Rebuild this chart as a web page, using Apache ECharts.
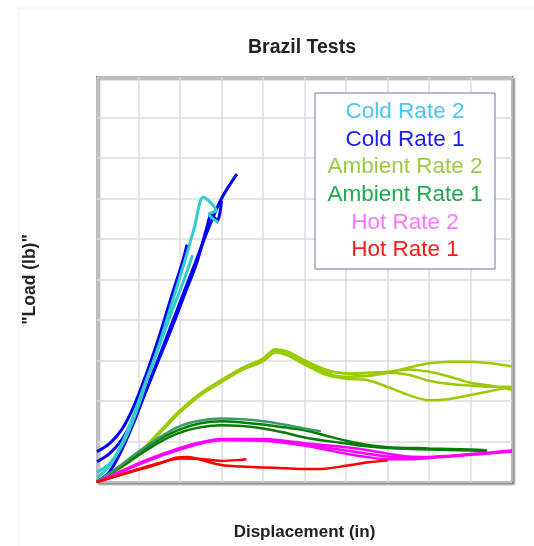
<!DOCTYPE html>
<html>
<head>
<meta charset="utf-8">
<script src="https://cdn.jsdelivr.net/npm/echarts@6/dist/echarts.min.js"></script>
<style>
  html, body { margin: 0; padding: 0; background: #fff; }
  #chart { width: 534px; height: 546px; }
</style>
</head>
<body>
<div id="chart"></div>
<script>
// values, in grid units (no tick labels shown)
var coldRate1 = [
  [[0,0],[0.3,0.25],[0.6,0.8],[0.9,1.5],[1.2,2.3],[1.5,3.1],[1.8,3.9],[2.1,4.7],[2.4,5.5],[2.7,6.3],[3.0,7.0],[3.37,7.6]],
  [[0,0.75],[0.3,0.95],[0.6,1.3],[0.9,1.9],[1.2,2.7],[1.5,3.6],[1.8,4.6],[2.05,5.4],[2.17,5.86]],
  [[0,0.5],[0.3,0.7],[0.6,1.05],[0.9,1.6],[1.2,2.3],[1.5,3.05],[1.8,3.8],[2.1,4.6],[2.4,5.4],[2.65,6.3],[2.75,6.6],[2.9,6.45],[3.0,6.95]]
];
var coldRate2 = [
  [[0,0.24],[0.3,0.45],[0.6,0.9],[0.9,1.6],[1.2,2.5],[1.5,3.4],[1.8,4.4],[2.1,5.4],[2.35,6.3],[2.56,7.03],[2.87,6.7],[2.7,6.62],[2.93,6.4]],
  [[0,0.1],[0.3,0.4],[0.6,0.95],[0.9,1.7],[1.2,2.55],[1.5,3.35],[1.8,4.2],[2.1,5.0],[2.3,5.6]]
];
var ambientRate2 = [
  [[0,0],[0.5,0.33],[1,0.7],[1.5,1.24],[2,1.77],[2.5,2.2],[3,2.52],[3.5,2.82],[4,3.05],[4.3,3.28],[4.6,3.22],[5,3.0],[5.5,2.75],[6,2.68],[6.5,2.62],[7,2.7],[7.5,2.82],[8,2.93],[8.5,2.97],[9,2.97],[9.5,2.93],[10,2.85]],
  [[0,0],[0.5,0.31],[1,0.67],[1.5,1.2],[2,1.73],[2.5,2.16],[3,2.48],[3.5,2.78],[4,3.0],[4.3,3.22],[4.6,3.15],[5,2.95],[5.5,2.7],[6,2.6],[6.5,2.62],[7,2.7],[7.5,2.65],[8,2.5],[8.5,2.42],[9,2.38],[9.5,2.35],[10,2.35]],
  [[0,0],[0.5,0.3],[1,0.66],[1.5,1.19],[2,1.72],[2.5,2.15],[3,2.47],[3.5,2.77],[4,2.98],[4.3,3.2],[4.6,3.12],[5,2.9],[5.5,2.65],[6,2.55],[6.5,2.52],[7,2.35],[7.5,2.15],[8,2.02],[8.5,2.05],[9,2.15],[9.5,2.25],[10,2.35]],
  [[0,0],[0.5,0.32],[1,0.69],[1.5,1.22],[2,1.75],[2.5,2.18],[3,2.5],[3.5,2.8],[4,3.02],[4.3,3.25],[4.6,3.2],[5,3.0],[5.5,2.78],[6,2.68],[6.5,2.7],[7,2.72],[7.5,2.78],[8,2.72],[8.5,2.6],[9,2.45],[9.5,2.38],[10,2.28]]
];
var ambientRate1 = [
  [[0,0],[0.5,0.35],[1,0.72],[1.5,1.05],[2,1.3],[2.5,1.45],[3,1.5],[3.5,1.47],[4,1.42],[4.5,1.35],[5,1.28],[5.5,1.15],[6,1.02],[6.5,0.92],[7,0.86],[8,0.83],[9,0.8],[9.4,0.78]],
  [[0,0],[0.5,0.32],[1,0.66],[1.5,0.98],[2,1.22],[2.5,1.35],[3,1.4],[3.5,1.38],[4,1.32],[4.5,1.22],[5,1.1],[5.5,1.02],[6,0.95],[6.5,0.88],[7,0.84],[8,0.8],[9,0.78],[9.4,0.76]],
  [[0,0],[0.5,0.36],[1,0.75],[1.5,1.1],[2,1.38],[2.5,1.52],[3,1.57],[3.5,1.55],[4,1.5],[4.5,1.42],[5,1.32],[5.4,1.25]]
];
var hotRate2 = [
  [[0,0],[0.5,0.22],[1,0.45],[1.5,0.65],[2,0.82],[2.5,0.97],[3,1.05],[4,1.05],[4.5,1.0],[5,0.93],[5.5,0.85],[6,0.78],[6.5,0.7],[7,0.63],[7.5,0.6],[8,0.61],[8.5,0.64],[9,0.68],[9.5,0.72],[10,0.77]],
  [[0,0],[0.5,0.21],[1,0.43],[1.5,0.63],[2,0.8],[2.5,0.95],[3,1.03],[4,1.02],[4.5,0.97],[5,0.9],[5.5,0.8],[6,0.7],[6.5,0.62],[7,0.56],[7.5,0.56],[8,0.59],[8.5,0.63],[9,0.67],[9.5,0.71],[10,0.75]],
  [[0,0],[0.5,0.23],[1,0.46],[1.5,0.66],[2,0.84],[2.5,0.98],[3,1.06],[4,1.06],[4.5,1.02],[5,0.96],[5.5,0.91],[6,0.86],[6.5,0.79],[7,0.7],[7.5,0.63],[8,0.62],[8.5,0.65],[9,0.69],[9.5,0.73],[10,0.78]]
];
var hotRate1 = [
  [[0,0],[0.5,0.15],[1,0.3],[1.5,0.45],[1.9,0.6],[2.2,0.62],[2.5,0.55],[3,0.42],[3.5,0.38],[4,0.36],[4.5,0.34],[5,0.32],[5.5,0.33],[6,0.4],[6.5,0.48],[7,0.53]],
  [[0,0],[0.5,0.16],[1,0.32],[1.5,0.47],[2,0.58],[2.5,0.57],[3,0.52],[3.5,0.55],[3.6,0.56]]
];
var legendNames = ['Cold Rate 2', 'Cold Rate 1', 'Ambient Rate 2', 'Ambient Rate 1', 'Hot Rate 2', 'Hot Rate 1'];
var legendColors = ['#4cc6f0', '#1a1aff', '#99cc44', '#1fa84f', '#ff77ff', '#ff1a1a'];

var chart = echarts.init(document.getElementById('chart'));

var series = [];
function addCurves(list, colors, width) {
  list.forEach(function (d, i) {
    series.push({
      type: 'line',
      data: d,
      showSymbol: false,
      smooth: 0.3,
      silent: true,
      lineStyle: { color: colors[i % colors.length], width: width }
    });
  });
}
addCurves(coldRate1, ['#0000ff'], 3);
addCurves(coldRate2, ['#33cccc'], 3);
addCurves(ambientRate2, ['#99cc00'], 2.5);
addCurves(ambientRate1, ['#008000', '#0a7a0a', '#3a9a6a'], 2.5);
addCurves(hotRate2, ['#ff00ff'], 2.5);
addCurves(hotRate1, ['#ff0000'], 2.5);

// legend box drawn by hand so the text can be centred
var legendItems = [{
  type: 'rect',
  z: 100,
  shape: { x: 315, y: 93, width: 180, height: 176 },
  style: { fill: '#fff', stroke: '#6b7b99', lineWidth: 1 }
}];
legendNames.forEach(function (n, i) {
  legendItems.push({
    type: 'text',
    z: 101,
    x: 405,
    y: 112 + i * 27.6,
    style: {
      text: n, fill: legendColors[i], font: '22.5px "Liberation Sans", Arial',
      align: 'center', verticalAlign: 'middle'
    }
  });
});

var option = {
  animation: false,
  title: {
    text: 'Brazil Tests',
    left: 297,
    top: 33,
    textAlign: 'center',
    textStyle: { fontSize: 19.5, fontWeight: 'bold', color: '#222', fontFamily: '"Liberation Sans", Arial' }
  },
  grid: {
    left: 97, top: 77, width: 415, height: 411,
    show: true,
    backgroundColor: '#fff',
    borderColor: '#555',
    borderWidth: 2,
    shadowColor: 'rgba(0,0,0,0.35)',
    shadowBlur: 2,
    shadowOffsetX: 2,
    shadowOffsetY: 2
  },
  xAxis: {
    type: 'value', min: 0, max: 10, interval: 1,
    name: 'Displacement (in)',
    nameLocation: 'middle',
    nameGap: 42,
    nameTextStyle: { fontSize: 17, fontWeight: 'bold', color: '#222', fontFamily: '"Liberation Sans", Arial' },
    axisLine: { show: false },
    axisTick: { show: false },
    axisLabel: { show: false },
    splitLine: { lineStyle: { color: '#dcdcdc', width: 1.5 } }
  },
  yAxis: {
    type: 'value', min: 0, max: 10, interval: 1,
    name: '"Load (lb)"',
    nameLocation: 'middle',
    nameGap: 58,
    nameRotate: 90,
    nameTextStyle: { fontSize: 17.5, fontWeight: 'bold', color: '#222', fontFamily: '"Liberation Sans", Arial' },
    axisLine: { show: false },
    axisTick: { show: false },
    axisLabel: { show: false },
    splitLine: { lineStyle: { color: '#dcdcdc', width: 1.5 } }
  },
  graphic: [{
    type: 'rect',
    z: -10,
    silent: true,
    shape: { x: 19, y: 8, width: 600, height: 600 },
    style: { fill: 'none', stroke: '#efefef', lineWidth: 1 }
  }].concat(legendItems),
  series: series
};
chart.setOption(option);
</script>
</body>
</html>
